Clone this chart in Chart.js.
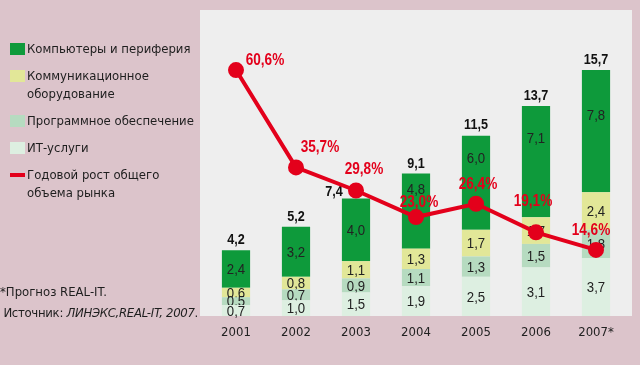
<!DOCTYPE html>
<html>
<head>
<meta charset="utf-8">
<script src="https://cdn.jsdelivr.net/npm/chart.js@4/dist/chart.umd.min.js"></script>
<style>
body{margin:0;background:#dcc4cb;font-family:'DejaVu Sans Condensed',sans-serif;color:#1e1e1e;}
#wrap{position:relative;width:640px;height:365px;overflow:hidden;}
#c{position:absolute;left:0;top:0;}
#legend{position:absolute;left:10px;top:40px;font-size:13px;line-height:18px;}
.item{position:relative;padding-left:17px;white-space:pre-line;margin-bottom:9px;}
.sw{position:absolute;left:0;top:3px;width:15px;height:12px;}
.dash{top:7px;height:4px;}
#note{position:absolute;left:0;top:281px;font-size:13px;line-height:21px;}
#note .src{letter-spacing:-0.3px;}
</style>
</head>
<body>
<div id="wrap">
<canvas id="c" width="640" height="365"></canvas>
<div id="legend"></div>
<div id="note">*Прогноз REAL-IT.<br><span class="src">&nbsp;Источник: <i>ЛИНЭКС,REAL-IT, 2007</i>.</span></div>
</div>
<script>
const years = ["2001","2002","2003","2004","2005","2006","2007*"];
const itServices = [0.7,1.0,1.5,1.9,2.5,3.1,3.7];
const software = [0.5,0.7,0.9,1.1,1.3,1.5,1.8];
const telecom = [0.6,0.8,1.1,1.3,1.7,1.7,2.4];
const computers = [2.4,3.2,4.0,4.8,6.0,7.1,7.8];
const totals = [4.2,5.2,7.4,9.1,11.5,13.7,15.7];
const growth = [60.6,35.7,29.8,23.0,26.4,19.1,14.6];

const names = ["Компьютеры и периферия","Коммуникационное\nоборудование","Программное обеспечение","ИТ-услуги","Годовой рост общего\nобъема рынка"];
const colors = ["#0e9a3b","#e2e798","#b6dbc0","#ddefe1","#e3001b"];

// where each red label sits relative to its point
const growthOffsets = [[29,-10],[24,-20],[8,-21],[3,-15],[2,-19],[-3,-31],[-5,-20]];
// total labels: 2003 is pushed left of the line point
const totalOffsets = [[0,-10],[0,-10],[-22,-6],[0,-9],[0,-11],[0,-10],[0,-10]];
// green segment labels lifted away from the line
const topShift = [0,0,0,-22,-25,-24,-16];

const FONT = "'Liberation Sans',Arial,sans-serif";
const fmt = v => v.toFixed(1).replace(".", ",");

// legend
let lg = document.getElementById("legend");
names.forEach((n,i) => {
let d = document.createElement("div");
d.className = "item";
d.innerHTML = '<span class="sw' + (i==4 ? ' dash' : '') + '" style="background:' + colors[i] + '"></span>' + n;
lg.appendChild(d);
});

// narrow text, like the condensed face of the original
function narrowText(ctx, txt, x, y, sx){
ctx.save();
ctx.translate(x, y);
ctx.scale(sx, 1);
ctx.fillText(txt, 0, 0);
ctx.restore();
}

const panel = {
id: "panel",
beforeDatasetsDraw(chart){
let a = chart.chartArea, ctx = chart.ctx;
ctx.save();
ctx.fillStyle = "#eeeeee";
ctx.fillRect(a.left-6, a.top, a.right-a.left+12, a.bottom-a.top);
ctx.restore();
}
};

const labels = {
id: "labels",
afterDatasetDraw(chart, args){
let ds = chart.data.datasets[args.index];
if(ds.type == "line") return;
let ctx = chart.ctx;
ctx.save();
ctx.font = "15px " + FONT;
ctx.fillStyle = "#222";
ctx.textAlign = "center";
ctx.textBaseline = "middle";
args.meta.data.forEach((el,i) => {
let dy = args.index == 3 ? topShift[i] : 0;
narrowText(ctx, fmt(ds.data[i]), el.x, (el.y + el.base)/2 + 1 + dy, 0.88);
});
if(args.index == 3){
ctx.font = "bold 14px " + FONT;
ctx.fillStyle = "#111";
args.meta.data.forEach((el,i) => {
narrowText(ctx, fmt(totals[i]), el.x + totalOffsets[i][0], el.y + totalOffsets[i][1], 0.9);
});
}
ctx.restore();
},
afterDatasetsDraw(chart){
let ctx = chart.ctx;
let meta = chart.getDatasetMeta(4);
ctx.save();
ctx.font = "bold 17px " + FONT;
ctx.fillStyle = colors[4];
ctx.textAlign = "center";
ctx.textBaseline = "middle";
meta.data.forEach((el,i) => {
narrowText(ctx, fmt(growth[i]) + "%", el.x + growthOffsets[i][0], el.y + growthOffsets[i][1], 0.8);
});
ctx.restore();
}
};

new Chart(document.getElementById("c"), {
type: "bar",
data: {
labels: years,
datasets: [
{label: names[3], data: itServices, backgroundColor: colors[3], order: 1},
{label: names[2], data: software, backgroundColor: colors[2], order: 1},
{label: names[1], data: telecom, backgroundColor: colors[1], order: 1},
{label: names[0], data: computers, backgroundColor: colors[0], order: 1},
{type: "line", label: names[4], data: growth, yAxisID: "y2", borderColor: colors[4], backgroundColor: colors[4],
borderWidth: 4, pointRadius: 6, pointHoverRadius: 6, tension: 0, order: 0}
]
},
options: {
responsive: false,
animation: false,
devicePixelRatio: 1,
layout: {padding: {left: 206, right: 14, top: 10, bottom: 0}},
categoryPercentage: 1,
barPercentage: 0.47,
plugins: {legend: {display: false}, tooltip: {enabled: false}},
scales: {
x: {
stacked: true,
grid: {display: false, drawTicks: false},
border: {display: false},
ticks: {color: "#222", font: {family: "'DejaVu Sans Condensed'", size: 13}, padding: 9},
afterFit(axis){ axis.height = 49; }
},
y: {stacked: true, display: false, min: 0, max: 19.53},
y2: {display: false, min: -2.3, max: 75.96}
}
},
plugins: [panel, labels]
});
</script>
</body>
</html>
